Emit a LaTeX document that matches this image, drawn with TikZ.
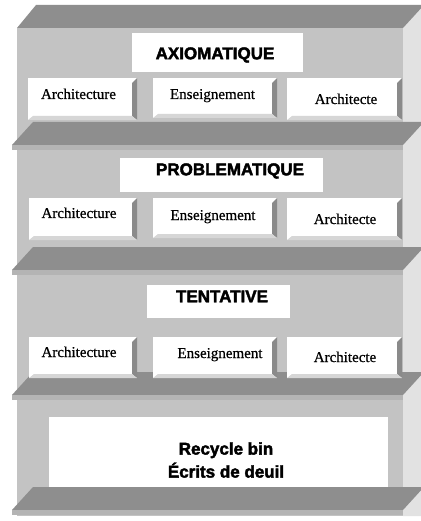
\documentclass[tikz,border=0pt]{standalone}
\usepackage{fontspec}
\setmainfont{Liberation Serif}
\newfontfamily\btnfont{Liberation Serif}[FakeBold=0.6]
\newfontfamily\headfont{Liberation Sans}[BoldFeatures={FakeBold=2.4}]
\definecolor{facegray}{HTML}{C3C3C3}
\definecolor{shelfgray}{HTML}{8E8E8E}
\definecolor{lipgray}{HTML}{B4B4B4}
\definecolor{sidegray}{HTML}{E2E2E2}
\definecolor{bevdark}{HTML}{8A8A8A}
\definecolor{bevlight}{HTML}{D6D6D6}
\begin{document}
\begin{tikzpicture}[x=1pt,y=-1pt,
  front/.style={fill=facegray},
  shelfslab/.style={fill=shelfgray},
  shelflip/.style={fill=lipgray},
  sideface/.style={fill=sidegray},
  titlebox/.style={fill=white, inner sep=0pt},
  titletext/.style={inner sep=0pt, text height=12.5pt, text depth=0pt,
    font=\headfont\bfseries\fontsize{17}{20}\selectfont},
  button/.style={fill=white, inner sep=0pt,
    path picture={
      \fill[bevdark] (path picture bounding box.north east)
        -- (path picture bounding box.south east)
        -- ([shift={(-5pt,4pt)}]path picture bounding box.south east)
        -- ([shift={(-5pt,-5pt)}]path picture bounding box.north east) -- cycle;
      \fill[bevlight] (path picture bounding box.south west)
        -- (path picture bounding box.south east)
        -- ([shift={(-5pt,4pt)}]path picture bounding box.south east)
        -- ([shift={(5pt,4pt)}]path picture bounding box.south west) -- cycle;
    }},
  btntext/.style={inner sep=0pt, text height=10pt, text depth=0pt,
    font=\btnfont\fontsize{15}{18}\selectfont},
  bintext/.style={inner sep=0pt, align=center,
    font=\headfont\bfseries\fontsize{17}{23}\selectfont}
]
\useasboundingbox (0,0) rectangle (420,521);
\fill[white] (0,0) rectangle (420,521);

% cabinet body: side, front and top
\fill[sideface] (403,28) -- (423,5) -- (423,516) -- (403,516) -- cycle;
\fill[front] (17,28) rectangle (403,516);
\fill[shelfslab] (17,28) -- (36,5) -- (424,5) -- (403,28) -- cycle;

% shelves
\foreach \yb in {145,270,395,510}{
  \fill[shelfslab] (12,\yb) -- (33,\yb-23) -- (424,\yb-23) -- (403,\yb) -- cycle;
  \fill[shelflip] (12,\yb) rectangle (403,\yb+5);
}

% level 1
\node[titlebox, minimum width=171pt, minimum height=39pt] (axbox) at (217.5,52.5) {};
\node[titletext] (ax) at (215,53) {AXIOMATIQUE};
\node[button, minimum width=109pt, minimum height=42pt] (a1) at (82.5,99) {};
\node[button, minimum width=124pt, minimum height=40pt] (e1) at (215,98) {};
\node[button, minimum width=115pt, minimum height=42pt] (c1) at (344.5,99) {};
\node[btntext] (a1t) at (78.5,94) {Architecture};
\node[btntext] (e1t) at (212.5,94) {Enseignement};
\node[btntext] (c1t) at (346,99) {Architecte};

% level 2
\node[titlebox, minimum width=203pt, minimum height=34pt] (prbox) at (221.5,175) {};
\node[titletext] (pr) at (230,169) {PROBLEMATIQUE};
\node[button, minimum width=108pt, minimum height=42pt] (a2) at (83,219) {};
\node[button, minimum width=124pt, minimum height=40pt] (e2) at (215,218) {};
\node[button, minimum width=115pt, minimum height=42pt] (c2) at (344.5,219) {};
\node[btntext] (a2t) at (79,213) {Architecture};
\node[btntext] (e2t) at (213,215) {Enseignement};
\node[btntext] (c2t) at (345,219) {Architecte};

% level 3
\node[titlebox, minimum width=143pt, minimum height=33pt] (tebox) at (218.5,301.5) {};
\node[titletext] (te) at (222,296) {TENTATIVE};
\node[button, minimum width=108pt, minimum height=41pt] (a3) at (83,357.5) {};
\node[button, minimum width=124pt, minimum height=41pt] (e3) at (215,357.5) {};
\node[button, minimum width=115pt, minimum height=41pt] (c3) at (344.5,357.5) {};
\node[btntext] (a3t) at (79,352) {Architecture};
\node[btntext] (e3t) at (220,353) {Enseignement};
\node[btntext] (c3t) at (345,357) {Architecte};

% bottom compartment
\node[titlebox, minimum width=339pt, minimum height=70pt] (binbox) at (218.5,452) {};
\node[bintext] (bin) at (226,460) {Recycle bin\\Écrits de deuil};
\end{tikzpicture}
\end{document}
